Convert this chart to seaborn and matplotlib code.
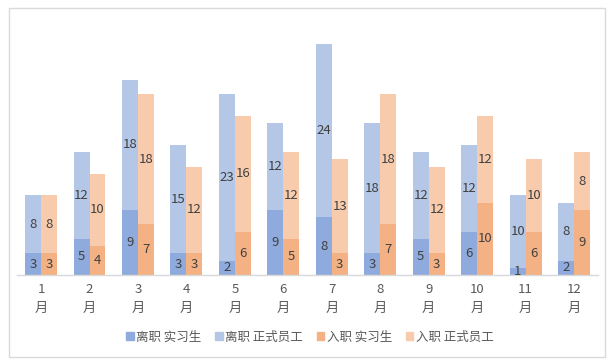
import matplotlib
matplotlib.use('Agg')
import matplotlib.pyplot as plt
import matplotlib.patches as mpatches
import pandas as pd
import seaborn as sns

# Data
months = ['1\n月', '2\n月', '3\n月', '4\n月', '5\n月', '6\n月',
          '7\n月', '8\n月', '9\n月', '10\n月', '11\n月', '12\n月']
leave_intern = [3, 5, 9, 3, 2, 9, 8, 3, 5, 6, 1, 2]
leave_staff = [8, 12, 18, 15, 23, 12, 24, 18, 12, 12, 10, 8]
join_intern = [3, 4, 7, 3, 6, 5, 3, 7, 3, 10, 6, 9]
join_staff = [8, 10, 18, 12, 16, 12, 13, 18, 12, 12, 10, 8]
groups = ['离职', '入职']
series_names = ['离职 实习生', '离职 正式员工', '入职 实习生', '入职 正式员工']
colors = ['#8FAADC', '#B4C7E7', '#F4B183', '#F8CBAD']

sns.set_theme(style='white')
plt.rcParams['font.family'] = ['Noto Sans CJK SC', 'DejaVu Sans']

rows = []
for i, m in enumerate(months):
    rows.append({'month': m, 'group': '离职', 'intern': leave_intern[i],
                 'staff': leave_staff[i], 'total': leave_intern[i] + leave_staff[i]})
    rows.append({'month': m, 'group': '入职', 'intern': join_intern[i],
                 'staff': join_staff[i], 'total': join_intern[i] + join_staff[i]})
df = pd.DataFrame(rows)

fig = plt.figure(figsize=(6.16, 3.64), dpi=100)
ax = fig.add_axes([0.0273, 0.2445, 0.944, 0.695])

# totals first (light), then interns on top (dark) -> stacked look
sns.barplot(data=df, x='month', y='total', hue='group', hue_order=groups,
            palette=[colors[1], colors[3]], width=0.66, saturation=1,
            order=months, ax=ax, legend=False, errorbar=None, linewidth=0)
sns.barplot(data=df, x='month', y='intern', hue='group', hue_order=groups,
            palette=[colors[0], colors[2]], width=0.66, saturation=1,
            order=months, ax=ax, legend=False, errorbar=None, linewidth=0)

txt_kw = dict(ha='center', va='center', fontsize=9.5, color='#404040')
total_bars = ax.containers[0:2]
intern_bars = ax.containers[2:4]
for tc, ic in zip(total_bars, intern_bars):
    for tp, ip in zip(tc.patches, ic.patches):
        xc = tp.get_x() + tp.get_width() / 2
        intern = ip.get_height()
        total = tp.get_height()
        ax.text(xc, intern / 2, f'{int(intern)}', **txt_kw)
        ax.text(xc, intern + (total - intern) / 2, f'{int(total - intern)}', **txt_kw)

ax.set_xlim(-0.5, 11.5)
ax.set_ylim(0, 35)
ax.set_xlabel('')
ax.set_ylabel('')
ax.set_yticks([])
for s in ['top', 'right', 'left']:
    ax.spines[s].set_visible(False)
ax.spines['bottom'].set_color('#D9D9D9')
ax.spines['bottom'].set_linewidth(1)
ax.tick_params(axis='x', length=0, pad=6, labelsize=9.5, labelcolor='#595959')
for lbl in ax.get_xticklabels():
    lbl.set_linespacing(1.55)

handles = [mpatches.Patch(color=c, label=n) for c, n in zip(colors, series_names)]
fig.legend(handles=handles, loc='center', bbox_to_anchor=(0.503, 0.074), ncol=4,
           frameon=False, fontsize=9, handlelength=0.6, handleheight=0.6,
           handletextpad=0.2, columnspacing=1.1, labelcolor='#595959')

# chart border
fig.add_artist(mpatches.Rectangle((9 / 616, 1 - 357 / 364), 596 / 616, 349 / 364,
                                  transform=fig.transFigure, fill=False,
                                  edgecolor='#D9D9D9', linewidth=1))

fig.savefig('out.png', dpi=100)
